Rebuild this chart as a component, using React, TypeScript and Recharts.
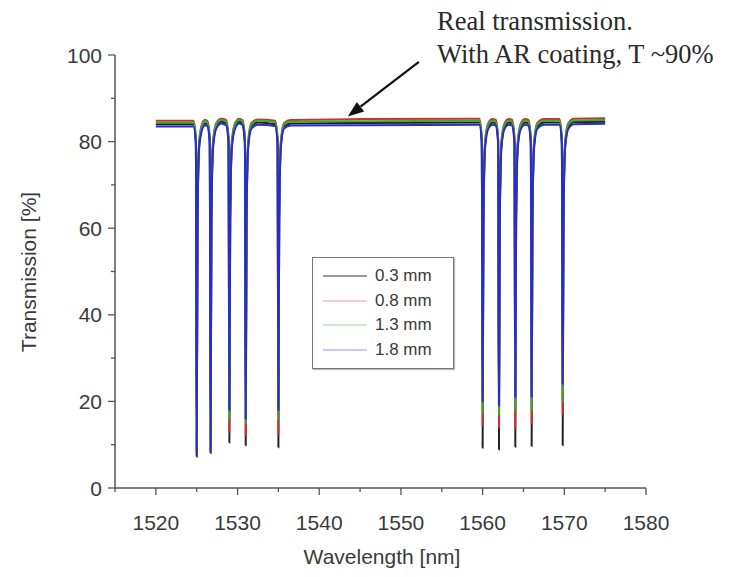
import React from 'react';
import { LineChart, Line, XAxis, YAxis, Legend, ReferenceLine } from 'recharts';

// ---- data ----
const xTicks = [1515, 1520, 1525, 1530, 1535, 1540, 1545, 1550, 1555, 1560, 1565, 1570, 1575, 1580];
const yTicks = [0, 10, 20, 30, 40, 50, 60, 70, 80, 90, 100];

// 0.3 mm (black)
const s03: [number, number][] = [
  [1520, 84.0], [1524.6, 84.0], [1524.9, 80], [1525.0, 7.2], [1525.1, 62], [1525.3, 79], [1525.7, 83.5], [1526.0, 84.2],
  [1526.3, 84.0], [1526.6, 80], [1526.7, 8.1], [1526.8, 62], [1527.0, 79], [1527.4, 83.5], [1528.0, 84.6],
  [1528.6, 84.2], [1528.9, 80], [1529.0, 10.5], [1529.1, 62], [1529.3, 79], [1529.7, 83.5], [1530.2, 84.6],
  [1530.6, 84.2], [1530.9, 80], [1531.0, 9.9], [1531.1, 62], [1531.3, 79], [1531.7, 83.5], [1532.5, 84.4],
  [1534.6, 84.0], [1534.9, 80], [1535.0, 9.4], [1535.1, 62], [1535.3, 79], [1535.7, 83.5], [1536.5, 84.2],
  [1545, 84.3], [1559.6, 84.4], [1559.9, 80], [1560.0, 9.3], [1560.1, 62], [1560.3, 79], [1560.7, 83.5], [1561.2, 84.4],
  [1561.6, 84.2], [1561.9, 80], [1562.0, 8.9], [1562.1, 62], [1562.3, 79], [1562.7, 83.5], [1563.2, 84.4],
  [1563.6, 84.2], [1563.9, 80], [1564.0, 9.5], [1564.1, 62], [1564.3, 79], [1564.7, 83.5], [1565.2, 84.4],
  [1565.6, 84.2], [1565.9, 80], [1566.0, 9.7], [1566.1, 62], [1566.3, 79], [1566.7, 83.5], [1567.5, 84.4],
  [1569.4, 84.4], [1569.7, 80], [1569.8, 9.9], [1569.9, 62], [1570.1, 79], [1570.5, 83.5], [1571.2, 84.5],
  [1575, 84.6],
];

// 0.8 mm (red)
const s08: [number, number][] = [
  [1520, 84.8], [1524.6, 84.8], [1524.9, 81], [1525.0, 10], [1525.1, 63], [1525.3, 80], [1525.7, 84.3], [1526.0, 85.0],
  [1526.3, 84.8], [1526.6, 81], [1526.7, 11], [1526.8, 63], [1527.0, 80], [1527.4, 84.3], [1528.0, 85.3],
  [1528.6, 85.0], [1528.9, 81], [1529.0, 13], [1529.1, 63], [1529.3, 80], [1529.7, 84.3], [1530.2, 85.3],
  [1530.6, 85.0], [1530.9, 81], [1531.0, 12], [1531.1, 63], [1531.3, 80], [1531.7, 84.3], [1532.5, 85.1],
  [1534.6, 84.8], [1534.9, 81], [1535.0, 12.5], [1535.1, 63], [1535.3, 80], [1535.7, 84.3], [1536.5, 85.0],
  [1545, 85.2], [1559.6, 85.3], [1559.9, 81], [1560.0, 14.5], [1560.1, 63], [1560.3, 80], [1560.7, 84.3], [1561.2, 85.2],
  [1561.6, 85.0], [1561.9, 81], [1562.0, 14], [1562.1, 63], [1562.3, 80], [1562.7, 84.3], [1563.2, 85.2],
  [1563.6, 85.0], [1563.9, 81], [1564.0, 14], [1564.1, 63], [1564.3, 80], [1564.7, 84.3], [1565.2, 85.2],
  [1565.6, 85.0], [1565.9, 81], [1566.0, 15], [1566.1, 63], [1566.3, 80], [1566.7, 84.3], [1567.5, 85.2],
  [1569.4, 85.2], [1569.7, 81], [1569.8, 17], [1569.9, 63], [1570.1, 80], [1570.5, 84.3], [1571.2, 85.3],
  [1575, 85.4],
];

// 1.3 mm (green)
const s13: [number, number][] = [
  [1520, 84.4], [1524.6, 84.4], [1524.9, 80.5], [1525.0, 9], [1525.1, 62], [1525.3, 79.5], [1525.7, 84], [1526.0, 84.7],
  [1526.3, 84.5], [1526.6, 80.5], [1526.7, 10], [1526.8, 62], [1527.0, 79.5], [1527.4, 84], [1528.0, 85.0],
  [1528.6, 84.7], [1528.9, 80.5], [1529.0, 16], [1529.1, 62], [1529.3, 79.5], [1529.7, 84], [1530.2, 85.0],
  [1530.6, 84.7], [1530.9, 80.5], [1531.0, 15], [1531.1, 62], [1531.3, 79.5], [1531.7, 84], [1532.5, 84.8],
  [1534.6, 84.5], [1534.9, 80.5], [1535.0, 16], [1535.1, 62], [1535.3, 79.5], [1535.7, 84], [1536.5, 84.6],
  [1545, 84.7], [1559.6, 84.8], [1559.9, 80.5], [1560.0, 17.5], [1560.1, 62], [1560.3, 79.5], [1560.7, 84], [1561.2, 84.8],
  [1561.6, 84.6], [1561.9, 80.5], [1562.0, 17], [1562.1, 62], [1562.3, 79.5], [1562.7, 84], [1563.2, 84.8],
  [1563.6, 84.6], [1563.9, 80.5], [1564.0, 18], [1564.1, 62], [1564.3, 79.5], [1564.7, 84], [1565.2, 84.8],
  [1565.6, 84.6], [1565.9, 80.5], [1566.0, 18], [1566.1, 62], [1566.3, 79.5], [1566.7, 84], [1567.5, 84.8],
  [1569.4, 84.8], [1569.7, 80.5], [1569.8, 20], [1569.9, 62], [1570.1, 79.5], [1570.5, 84], [1571.2, 84.9],
  [1575, 85.0],
];

// 1.8 mm (blue)
const s18: [number, number][] = [
  [1520, 83.5], [1524.6, 83.5], [1524.9, 79.5], [1525.0, 8], [1525.1, 61], [1525.3, 78.5], [1525.7, 83], [1526.0, 83.8],
  [1526.3, 83.6], [1526.6, 79.5], [1526.7, 8.5], [1526.8, 61], [1527.0, 78.5], [1527.4, 83], [1528.0, 84.2],
  [1528.6, 83.8], [1528.9, 79.5], [1529.0, 18], [1529.1, 61], [1529.3, 78.5], [1529.7, 83], [1530.2, 84.2],
  [1530.6, 83.8], [1530.9, 79.5], [1531.0, 16], [1531.1, 61], [1531.3, 78.5], [1531.7, 83], [1532.5, 83.9],
  [1534.6, 83.6], [1534.9, 79.5], [1535.0, 18], [1535.1, 61], [1535.3, 78.5], [1535.7, 83], [1536.5, 83.7],
  [1545, 83.8], [1559.6, 83.9], [1559.9, 79.5], [1560.0, 20], [1560.1, 61], [1560.3, 78.5], [1560.7, 83], [1561.2, 83.9],
  [1561.6, 83.7], [1561.9, 79.5], [1562.0, 19], [1562.1, 61], [1562.3, 78.5], [1562.7, 83], [1563.2, 83.9],
  [1563.6, 83.7], [1563.9, 79.5], [1564.0, 21], [1564.1, 61], [1564.3, 78.5], [1564.7, 83], [1565.2, 83.9],
  [1565.6, 83.7], [1565.9, 79.5], [1566.0, 21], [1566.1, 61], [1566.3, 78.5], [1566.7, 83], [1567.5, 83.9],
  [1569.4, 83.9], [1569.7, 79.5], [1569.8, 24], [1569.9, 61], [1570.1, 78.5], [1570.5, 83], [1571.2, 84.0],
  [1575, 84.1],
];

const seriesNames = ['0.3 mm', '0.8 mm', '1.3 mm', '1.8 mm'];
const seriesColors = ['#222222', '#d03030', '#30b030', '#2a2ad0'];
const seriesData = [s03, s08, s13, s18];

const arrowFrom = { x: 1552.2, y: 98.4 };
const arrowTo = { x: 1543.5, y: 85.8 };

const FONT = 'Liberation Sans, Arial, sans-serif';
const TXT = '#3a3a3a';
const AXIS = '#555555';

const XTick = (p: any) => {
  const v = p.payload.value;
  const major = v % 10 === 0;
  return (
    <g>
      <line x1={p.x} x2={p.x} y1={p.y} y2={p.y + (major ? 7 : 4)} stroke={AXIS} strokeWidth={1.3} />
      {major && (
        <text x={p.x} y={p.y + 34} textAnchor="middle" dominantBaseline="central" fontSize={21} fill={TXT} fontFamily={FONT}>
          {v}
        </text>
      )}
    </g>
  );
};

const YTick = (p: any) => {
  const v = p.payload.value;
  const major = v % 20 === 0;
  return (
    <g>
      <line x1={p.x - (major ? 7 : 4)} x2={p.x} y1={p.y} y2={p.y} stroke={AXIS} strokeWidth={1.3} />
      {major && (
        <text x={p.x - 13} y={p.y} textAnchor="end" dominantBaseline="central" fontSize={21} fill={TXT} fontFamily={FONT}>
          {v}
        </text>
      )}
    </g>
  );
};

const ArrowShape = (p: any) => {
  const { x1, y1, x2, y2 } = p;
  const dx = x2 - x1;
  const dy = y2 - y1;
  const len = Math.sqrt(dx * dx + dy * dy);
  const ux = dx / len;
  const uy = dy / len;
  const hl = 16;
  const hw = 6;
  const bx = x2 - ux * hl;
  const by = y2 - uy * hl;
  return (
    <g>
      <line x1={x1} y1={y1} x2={bx} y2={by} stroke="#111" strokeWidth={2.2} />
      <polygon
        points={`${x2},${y2} ${bx - uy * hw},${by + ux * hw} ${bx + uy * hw},${by - ux * hw}`}
        fill="#111"
      />
    </g>
  );
};

const LegendBox = () => (
  <div
    style={{
      border: '1.5px solid #777',
      boxShadow: '1px 1px 1px #bbb',
      background: '#fff',
      padding: '6px 0 6px 8px',
      width: 132,
      fontFamily: FONT,
      fontSize: 17,
      color: TXT,
    }}
  >
    {seriesNames.map((n, i) => (
      <div key={n} style={{ display: 'flex', alignItems: 'center', height: 24.5 }}>
        <svg width={48} height={10} style={{ marginRight: 6 }}>
          <line x1={2} x2={46} y1={5} y2={5} stroke={seriesColors[i]} strokeWidth={1.2} strokeOpacity={i === 0 ? 0.9 : 0.5} />
        </svg>
        <span>{n}</span>
      </div>
    ))}
  </div>
);

export default function App() {
  return (
    <div style={{ position: 'absolute', left: 0, top: 0, width: 736, height: 577, background: '#fff' }}>
      <LineChart width={736} height={577} margin={{ top: 55, right: 90, bottom: 29, left: 55 }}>
        <XAxis
          type="number"
          dataKey="0"
          domain={[1515, 1580]}
          ticks={xTicks}
          interval={0}
          tick={<XTick />}
          tickLine={false}
          tickSize={0}
          tickMargin={0}
          height={60}
          axisLine={{ stroke: AXIS, strokeWidth: 1.5 }}
          allowDataOverflow
          label={{
            content: () => (
              <text x={382} y={556} textAnchor="middle" dominantBaseline="central" fontSize={21} fill={TXT} fontFamily={FONT}>
                Wavelength [nm]
              </text>
            ),
          }}
        />
        <YAxis
          type="number"
          dataKey="1"
          domain={[0, 100]}
          ticks={yTicks}
          interval={0}
          tick={<YTick />}
          tickLine={false}
          tickSize={0}
          tickMargin={0}
          width={60}
          axisLine={{ stroke: AXIS, strokeWidth: 1.5 }}
          allowDataOverflow
          label={{
            content: () => (
              <text
                x={28}
                y={272}
                transform="rotate(-90 28 272)"
                textAnchor="middle"
                dominantBaseline="central"
                fontSize={21}
                fill={TXT}
                fontFamily={FONT}
              >
                Transmission [%]
              </text>
            ),
          }}
        />
        {seriesData.map((d, i) => (
          <Line
            key={seriesNames[i]}
            data={d}
            dataKey="1"
            name={seriesNames[i]}
            type="monotoneX"
            stroke={seriesColors[i]}
            strokeWidth={2}
            dot={false}
            activeDot={false}
            isAnimationActive={false}
          />
        ))}
        <ReferenceLine
          segment={[arrowFrom, arrowTo]}
          shape={<ArrowShape />}
          ifOverflow="visible"
        />
        <Legend
          layout="horizontal"
          verticalAlign="middle"
          align="center"
          content={<LegendBox />}
          wrapperStyle={{ left: 312, top: 257, width: 142, bottom: 'auto' }}
        />
      </LineChart>
      <div
        style={{
          position: 'absolute',
          left: 437,
          top: 5,
          fontFamily: 'Liberation Serif, Times New Roman, serif',
          fontSize: 26.5,
          lineHeight: '33px',
          color: '#2a2a2a',
          whiteSpace: 'nowrap',
        }}
      >
        Real transmission.
        <br />
        With AR coating, T ~90%
      </div>
    </div>
  );
}
